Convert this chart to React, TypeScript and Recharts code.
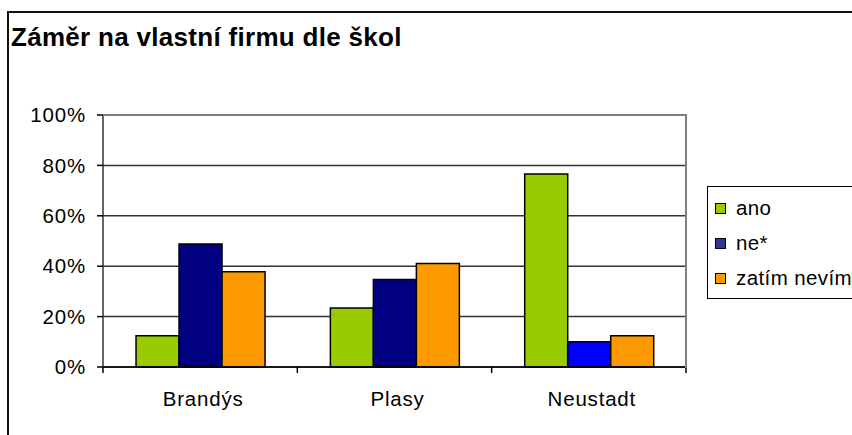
import React from 'react';
import { BarChart, Bar, XAxis, YAxis, CartesianGrid, Cell, Legend } from 'recharts';

const categories = ['Brandýs', 'Plasy', 'Neustadt'];
const anoValues = [12.4, 23.4, 76.6];
const neValues = [48.8, 34.7, 10.0];
const zatimValues = [37.8, 41.1, 12.4];
const yTicks = [0, 20, 40, 60, 80, 100];
const seriesNames = ['ano', 'ne*', 'zatím nevím'];
const seriesColors = ['#99CC00', '#333399', '#FF9900'];
const neBarColors = ['#000080', '#000080', '#0000FF'];

const data = categories.map((c, i) => ({
  name: c,
  ano: anoValues[i],
  ne: neValues[i],
  zatim: zatimValues[i],
}));

const W = 852;
const H = 435;
const LEGEND_W = 150;
const M = { top: 115, right: 166 - LEGEND_W, bottom: 28, left: 0 };
const YW = 103;
const PLOT_LEFT = 103;
const PLOT_RIGHT = 686;
const PLOT_TOP = 115;
const PLOT_BOTTOM = 367;
const band = (PLOT_RIGHT - PLOT_LEFT) / categories.length;
const FONT = '"Liberation Sans", Arial, sans-serif';
const LS = 0.8;

const XTick = (props: any) => {
  const { x, y, payload, index } = props;
  const left = x - band / 2;
  const right = x + band / 2;
  const last = index === categories.length - 1;
  return (
    <g>
      <line x1={left} y1={y} x2={left} y2={y + 6} stroke="#000" strokeWidth={1.5} />
      {last && <line x1={right} y1={y} x2={right} y2={y + 6} stroke="#000" strokeWidth={1.5} />}
      <text x={x + 3} y={y + 39} textAnchor="middle" fontFamily={FONT} fontSize={20.5} letterSpacing={LS} fill="#000">
        {payload.value}
      </text>
    </g>
  );
};

const YTick = (props: any) => {
  const { x, y, payload } = props;
  return (
    <text x={x} y={y} dy="0.355em" textAnchor="end" fontFamily={FONT} fontSize={20.5} letterSpacing={LS} fill="#000">
      {`${payload.value}%`}
    </text>
  );
};

const LegendBox = () => (
  <div
    style={{
      width: LEGEND_W,
      height: 113,
      border: '1px solid #000',
      boxSizing: 'border-box',
      position: 'relative',
      fontFamily: FONT,
      fontSize: 20.5,
      letterSpacing: 0.4,
      color: '#000',
      background: '#fff',
    }}
  >
    {seriesNames.map((n, i) => (
      <div key={n} style={{ position: 'absolute', left: 7, top: 21 + 35 * i - 12, height: 24, display: 'flex', alignItems: 'center', whiteSpace: 'nowrap' }}>
        <span style={{ display: 'inline-block', width: 9, height: 9, background: seriesColors[i], border: '1px solid #000', marginRight: 10 }} />
        <span>{n}</span>
      </div>
    ))}
  </div>
);

export default function App() {
  return (
    <div style={{ position: 'absolute', left: 0, top: 0, width: W, height: H, overflow: 'hidden', background: '#fff' }}>
      <div style={{ position: 'absolute', left: 7, top: 11, width: 900, height: 500, borderLeft: '2px solid #111', borderTop: '2px solid #111' }} />
      <div
        style={{
          position: 'absolute',
          left: 11,
          top: 25,
          fontFamily: FONT,
          fontWeight: 'bold',
          fontSize: 26,
          letterSpacing: 0.3,
          lineHeight: '25px',
          whiteSpace: 'nowrap',
          color: '#000',
        }}
      >
        Záměr na vlastní firmu dle škol
      </div>
      <div style={{ position: 'absolute', left: 0, top: 0 }}>
        <BarChart width={W} height={H} data={data} margin={M} barCategoryGap="17%" barGap={0}>
          <CartesianGrid vertical={false} horizontal stroke="#333" strokeWidth={1.5} />
          <XAxis
            dataKey="name"
            height={40}
            tickLine={false}
            tickSize={0}
            tickMargin={0}
            axisLine={{ stroke: '#000', strokeWidth: 1.5 }}
            tick={<XTick />}
            interval={0}
          />
          <YAxis
            width={YW}
            domain={[0, 100]}
            ticks={yTicks}
            interval={0}
            tickSize={6}
            tickMargin={11}
            tickLine={{ stroke: '#000', strokeWidth: 1.5 }}
            axisLine={{ stroke: '#333', strokeWidth: 1.5 }}
            tick={<YTick />}
          />
          <Legend
            layout="vertical"
            align="right"
            verticalAlign="middle"
            content={<LegendBox />}
            wrapperStyle={{ left: 707, top: 186, width: LEGEND_W, right: 'auto' }}
          />
          <Bar dataKey="ano" name={seriesNames[0]} fill={seriesColors[0]} stroke="#000" strokeWidth={1.5} isAnimationActive={false} />
          <Bar dataKey="ne" name={seriesNames[1]} fill="#000080" stroke="#000" strokeWidth={1.5} isAnimationActive={false}>
            {data.map((d, i) => (
              <Cell key={d.name} fill={neBarColors[i]} />
            ))}
          </Bar>
          <Bar dataKey="zatim" name={seriesNames[2]} fill={seriesColors[2]} stroke="#000" strokeWidth={1.5} isAnimationActive={false} />
        </BarChart>
      </div>
      <div
        style={{
          position: 'absolute',
          left: PLOT_LEFT,
          top: PLOT_TOP - 1,
          width: PLOT_RIGHT - PLOT_LEFT - 1,
          height: PLOT_BOTTOM - PLOT_TOP,
          borderTop: '2px solid #808080',
          borderRight: '2px solid #808080',
          pointerEvents: 'none',
        }}
      />
    </div>
  );
}
